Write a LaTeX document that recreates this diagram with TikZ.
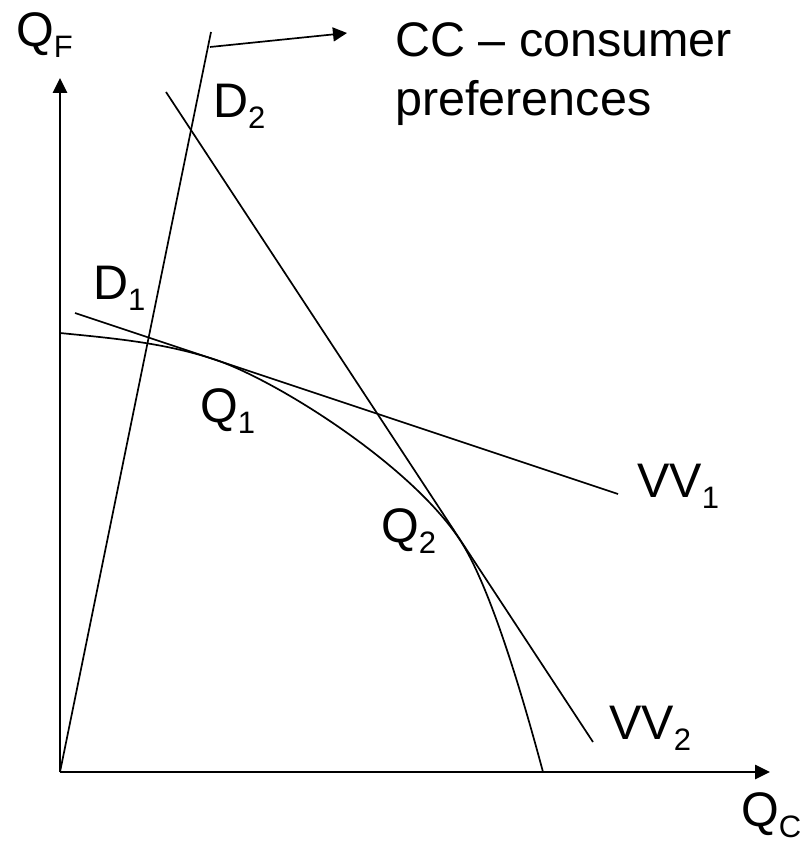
\documentclass[tikz,border=0pt]{standalone}
\usepackage{fontspec}
\setmainfont{Liberation Sans}
\usetikzlibrary{arrows.meta}
\newcommand\lbsub[2]{#1\raisebox{-11pt}{\fontsize{31}{31}\selectfont #2}}
\tikzset{
  axis/.style={line width=2.6pt, -{Triangle[length=15pt,width=14pt]}},
  curveline/.style={line width=1.7pt},
  lbl/.style={inner sep=0pt, anchor=base west, font=\fontsize{48.5}{52}\selectfont},
}
\begin{document}
\begin{tikzpicture}[x=1pt,y=-1pt]
\useasboundingbox (0,0) rectangle (811,842);
% coordinates
\coordinate (O) at (60,772);
\coordinate (ytip) at (60,78);
\coordinate (xtip) at (770,772);
\coordinate (cctop) at (211,32);
\coordinate (arrs) at (210,47);
\coordinate (arre) at (347,33);
\coordinate (v1a) at (75,313);
\coordinate (v1b) at (618,494);
\coordinate (v2a) at (166,92);
\coordinate (v2b) at (593,742);
\coordinate (ppfA) at (60,333);
\coordinate (T1) at (215,359.6);
\coordinate (T2) at (460,540);
\coordinate (ppfB) at (543,772);
% axes
\draw[axis] (O) -- (ytip);
\draw[axis] (O) -- (xtip);
% lines
\draw[curveline] (O) -- (cctop);
\draw[curveline, -{Triangle[length=14pt,width=14pt]}] (arrs) -- (arre);
\draw[curveline] (v1a) -- (v1b);
\draw[curveline] (v2a) -- (v2b);
% production possibility curve
\draw[curveline] (ppfA) .. controls (111.7,338.2) and (163.3,342.4) .. (T1)
  .. controls (275,379.6) and (410,463.9) .. (T2)
  .. controls (492.9,590.2) and (527.4,714) .. (ppfB);
% labels
\node[lbl] (QF) at (16,47) {\lbsub{Q}{F}};
\node[lbl] (D2) at (213,118) {\lbsub{D}{2}};
\node[lbl] (D1) at (93,299) {\lbsub{D}{1}};
\node[lbl] (Q1) at (200,422) {\lbsub{Q}{1}};
\node[lbl] (Q2) at (381,542) {\lbsub{Q}{2}};
\node[lbl] (VV1) at (637,497) {\lbsub{VV}{1}};
\node[lbl] (VV2) at (609,739) {\lbsub{VV}{2}};
\node[lbl] (QC) at (741,826) {\lbsub{Q}{C}};
\node[inner sep=0pt, anchor=north west, align=left, font=\fontsize{48.5}{59}\selectfont] (CC) at (395,22) {CC -- consumer\\preferences};
\end{tikzpicture}
\end{document}
